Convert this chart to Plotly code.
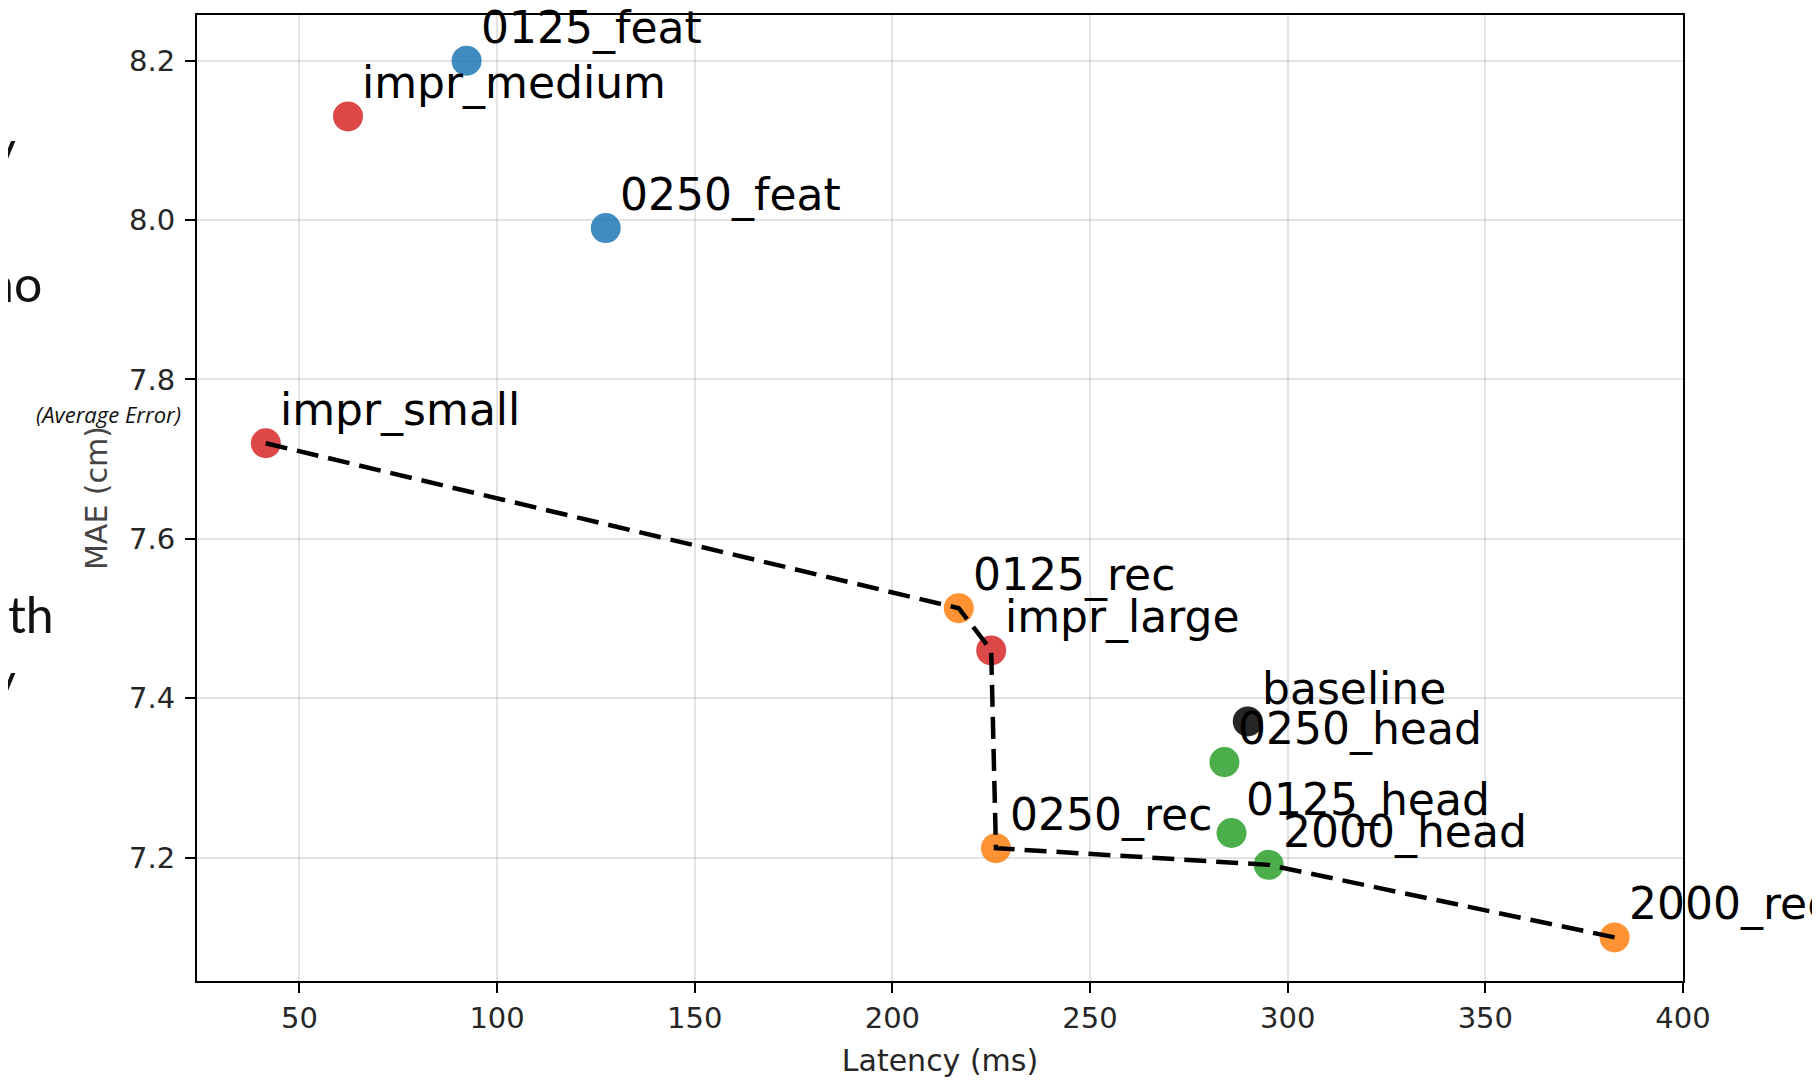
import plotly.graph_objects as go

# ---- data ----
names = ["baseline", "0125_feat", "0250_feat", "0125_head", "0250_head", "2000_head",
         "0125_rec", "0250_rec", "2000_rec", "impr_small", "impr_medium", "impr_large"]
latency = [289.9, 92.3, 127.5, 285.8, 284.0, 295.2, 216.8, 226.2, 382.7, 41.5, 62.3, 225.0]
mae = [7.371, 8.200, 7.990, 7.231, 7.320, 7.191, 7.513, 7.212, 7.100, 7.720, 8.130, 7.460]
groups = ["baseline", "feat", "feat", "head", "head", "head",
          "rec", "rec", "rec", "impr", "impr", "impr"]
frontier = ["impr_small", "0125_rec", "impr_large", "0250_rec", "2000_head", "2000_rec"]

x_ticks = [50, 100, 150, 200, 250, 300, 350, 400]
y_ticks = [7.2, 7.4, 7.6, 7.8, 8.0, 8.2]

side_fragments = ["y", "no", "oth", "y"]

group_colors = {"baseline": "#000000", "feat": "#1f77b4", "head": "#2ca02c",
                "rec": "#ff7f0e", "impr": "#d62728"}

# ---- layout geometry (figure pixels; page has an 8px body offset) ----
OFF = 8
W, H = 1820, 1080
L, T = 197 - OFF, 15 - OFF
PR, PB = 1683 - OFF, 981 - OFF
R, B = W - PR, H - PB
PW, PH = PR - L, PB - T


def px_x(page_px):
    return (page_px - OFF - L) / PW


def px_y(page_py):
    return (PB - (page_py - OFF)) / PH


fig = go.Figure()

fig.add_trace(go.Scatter(
    x=latency, y=mae, mode="markers",
    marker=dict(size=30, color=[group_colors[g] for g in groups], opacity=0.85,
                line=dict(width=0)),
    text=names, hoverinfo="text", showlegend=False, cliponaxis=False,
))

fx = [latency[names.index(n)] for n in frontier]
fy = [mae[names.index(n)] for n in frontier]
fig.add_trace(go.Scatter(
    x=fx, y=fy, mode="lines",
    line=dict(color="black", width=4.5, dash="22px,10px"),
    hoverinfo="skip", showlegend=False, cliponaxis=False,
))

annotations = []
for n, xv, yv in zip(names, latency, mae):
    annotations.append(dict(
        x=xv, y=yv, xref="x", yref="y", text=n, showarrow=False,
        xanchor="left", yanchor="bottom", xshift=12, yshift=5,
        font=dict(family="DejaVu Sans", size=44, color="black"),
    ))

# cropped slide text on the far left (page pixel positions)
frag_pos = [(17, 148), (43, 283), (55, 614), (17, 680)]
for t, (rx, cy) in zip(side_fragments, frag_pos):
    annotations.append(dict(
        x=px_x(rx), y=px_y(cy), xref="paper", yref="paper", text=t, showarrow=False,
        xanchor="right", yanchor="middle", borderpad=0,
        font=dict(family="Lato", size=50, color="#111111"),
    ))

annotations.append(dict(
    x=px_x(108), y=px_y(414), xref="paper", yref="paper",
    text="<i>(Average Error)</i>", showarrow=False,
    xanchor="center", yanchor="middle", borderpad=0,
    font=dict(family="Open Sans", size=22, color="#111111"),
))

axis_common = dict(
    showline=True, linecolor="black", linewidth=2, mirror=True,
    ticks="outside", ticklen=10, tickwidth=1.5, tickcolor="black",
    showgrid=True, gridcolor="rgba(0,0,0,0.11)", gridwidth=1.5,
    zeroline=False,
    tickfont=dict(family="DejaVu Sans", size=29, color="#262626"),
)

fig.update_layout(
    width=W, height=H,
    margin=dict(l=L, r=R, t=T, b=B, autoexpand=False),
    paper_bgcolor="white", plot_bgcolor="white",
    xaxis=dict(range=[24.1, 400], tickvals=x_ticks, ticklabelstandoff=0,
               title=dict(text="Latency (ms)", standoff=16,
                          font=dict(family="DejaVu Sans", size=30, color="#262626")),
               **axis_common),
    yaxis=dict(range=[7.0453, 8.2573], tickvals=y_ticks, tickformat=".1f",
               ticklabelstandoff=4,
               title=dict(text="MAE (cm)", standoff=13,
                          font=dict(family="DejaVu Sans", size=30, color="#444444")),
               **axis_common),
    annotations=annotations,
)

fig.write_html("out.html")
